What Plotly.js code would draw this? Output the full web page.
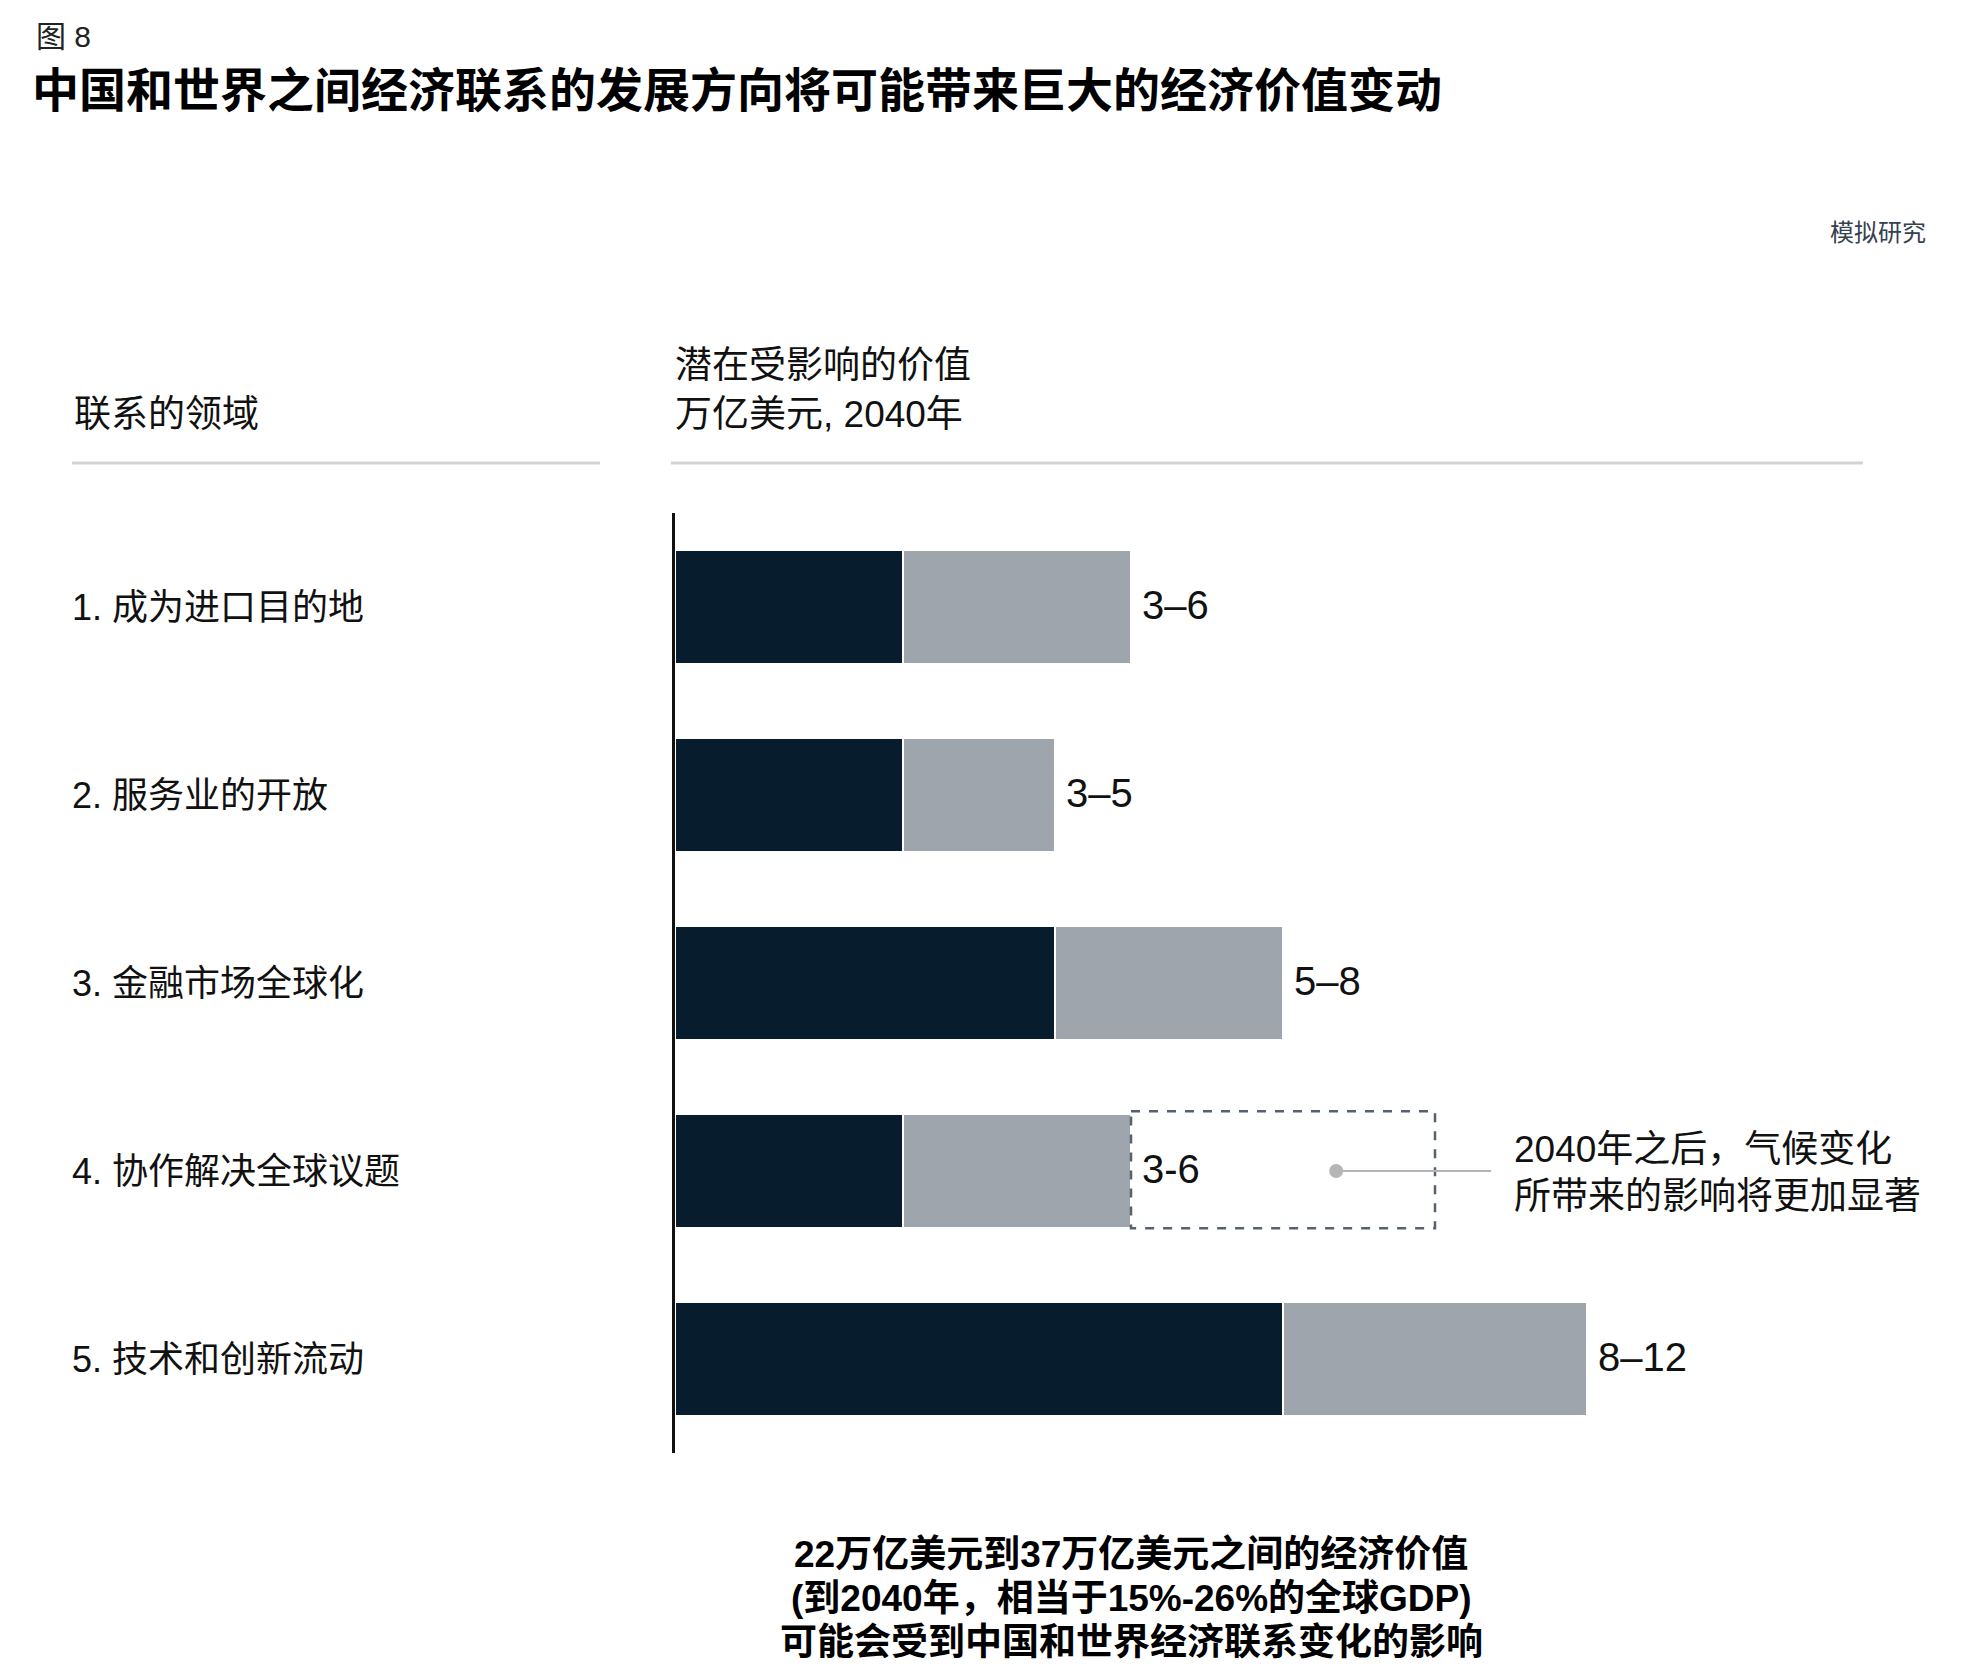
<!DOCTYPE html>
<html>
<head>
<meta charset="utf-8">
<script src="https://cdn.plot.ly/plotly-3.0.1.min.js"></script>
<style>
  html, body { margin: 0; padding: 0; background: #fff; }
  #chart { width: 1976px; height: 1676px; }
</style>
</head>
<body>
<div id="chart"></div>
<script>
// data (万亿美元, 2040年)
const categories = [
  "1. 成为进口目的地",
  "2. 服务业的开放",
  "3. 金融市场全球化",
  "4. 协作解决全球议题",
  "5. 技术和创新流动"
];
const lowValues = [3, 3, 5, 3, 8];
const highValues = [6, 5, 8, 6, 12];
const rangeLabels = ["3–6", "3–5", "5–8", "3-6", "8–12"];
// climate effect after 2040 (dashed box on row 4)
const climateExtra = [0, 0, 0, 4, 0];

// latin font first keeps the text boxes tight, CJK glyphs fall back to Noto
const FONT = "Liberation Sans, Noto Sans CJK SC, sans-serif";

// page geometry
const W = 1976, H = 1676;
const M = { l: 675, r: 50, t: 513, b: 223 };
const plotW = W - M.l - M.r;
const plotH = H - M.t - M.b;
const pxPerUnit = 76;
const px = v => (v - M.l) / plotW;     // page x -> paper x
const py = v => (H - M.b - v) / plotH; // page y -> paper y

const rows = categories.map((_, i) => i);

const traces = [
  {
    type: 'bar', orientation: 'h',
    y: rows, x: lowValues,
    marker: { color: '#071d2d', line: { color: '#ffffff', width: 2 } },
    hoverinfo: 'skip'
  },
  {
    type: 'bar', orientation: 'h',
    y: rows, x: highValues.map((h, i) => h - lowValues[i]),
    marker: { color: '#9ea5ac', line: { color: '#ffffff', width: 2 } },
    hoverinfo: 'skip'
  }
];

const annotations = [];
const txt = (text, x, y, size, opts = {}) => annotations.push(Object.assign({
  text, xref: 'paper', yref: 'paper', x: px(x), y: py(y),
  xanchor: 'left', yanchor: 'middle', showarrow: false,
  font: { family: FONT, size, color: '#111' }
}, opts));

txt('图 8', 34, 36, 30, { font: { family: FONT, size: 30, color: '#222' } });
txt('<b>中国和世界之间经济联系的发展方向将可能带来巨大的经济价值变动</b>', 30, 90, 47,
  { font: { family: FONT, size: 47, color: '#000' } });
txt('模拟研究', 1928, 232, 24, { xanchor: 'right', font: { family: FONT, size: 24, color: '#34414f' } });
txt('联系的领域', 72, 414, 37);
txt('潜在受影响的价值', 673, 366, 37);
txt('万亿美元, 2040年', 673, 414, 37);

categories.forEach((c, i) => annotations.push({
  text: c, xref: 'paper', yref: 'y', x: px(70), y: rows[i],
  xanchor: 'left', yanchor: 'middle', showarrow: false, yshift: 0,
  font: { family: FONT, size: 36, color: '#111' }
}));

rangeLabels.forEach((t, i) => annotations.push({
  text: t, xref: 'x', yref: 'y', x: highValues[i], y: rows[i],
  xanchor: 'left', yanchor: 'middle', showarrow: false, xshift: 9, yshift: 2,
  font: { family: FONT, size: 40, color: '#111' }
}));

// climate note
txt('2040年之后，气候变化', 1512, 1149, 37);
txt('所带来的影响将更加显著', 1512, 1196, 37);

// summary under the chart
const summary = [
  '22万亿美元到37万亿美元之间的经济价值',
  '(到2040年，相当于15%-26%的全球GDP)',
  '可能会受到中国和世界经济联系变化的影响'
];
summary.forEach((s, i) => txt('<b>' + s + '</b>', 1131, 1554 + i * 44, 37,
  { xanchor: 'center', font: { family: FONT, size: 37, color: '#000' } }));

const noteRow = 3;
const dotX = 8.7;
const noteLineEnd = (1491 - M.l) / pxPerUnit;

const shapes = [
  { type: 'line', xref: 'paper', yref: 'paper', x0: px(72), x1: px(600), y0: py(463), y1: py(463),
    line: { color: '#d3d3d3', width: 3 } },
  { type: 'line', xref: 'paper', yref: 'paper', x0: px(671), x1: px(1863), y0: py(463), y1: py(463),
    line: { color: '#d3d3d3', width: 3 } },
  { type: 'rect', xref: 'x', yref: 'y',
    x0: highValues[noteRow], x1: highValues[noteRow] + climateExtra[noteRow],
    y0: noteRow - 0.318, y1: noteRow + 0.305,
    line: { color: '#56626d', width: 2.5, dash: 'dash' }, fillcolor: 'rgba(0,0,0,0)' },
  { type: 'line', xref: 'x', yref: 'y', x0: dotX, x1: noteLineEnd, y0: noteRow, y1: noteRow,
    line: { color: '#b5b5b5', width: 2 } },
  { type: 'circle', xref: 'x', yref: 'y', xsizemode: 'pixel', ysizemode: 'pixel',
    xanchor: dotX, yanchor: noteRow, x0: -7, x1: 7, y0: -7, y1: 7,
    fillcolor: '#b5b5b5', line: { width: 0 } }
];

const layout = {
  width: W, height: H,
  margin: M,
  paper_bgcolor: '#fff', plot_bgcolor: '#fff',
  barmode: 'stack', bargap: 0.39,
  showlegend: false,
  xaxis: { range: [0, plotW / pxPerUnit], visible: false, fixedrange: true },
  yaxis: {
    range: [4.5, -0.5], showticklabels: false, showgrid: false, zeroline: false,
    showline: true, linecolor: '#111', linewidth: 3, ticks: '', fixedrange: true
  },
  annotations, shapes
};

Plotly.newPlot('chart', traces, layout, { displayModeBar: false, staticPlot: true });
</script>
</body>
</html>
